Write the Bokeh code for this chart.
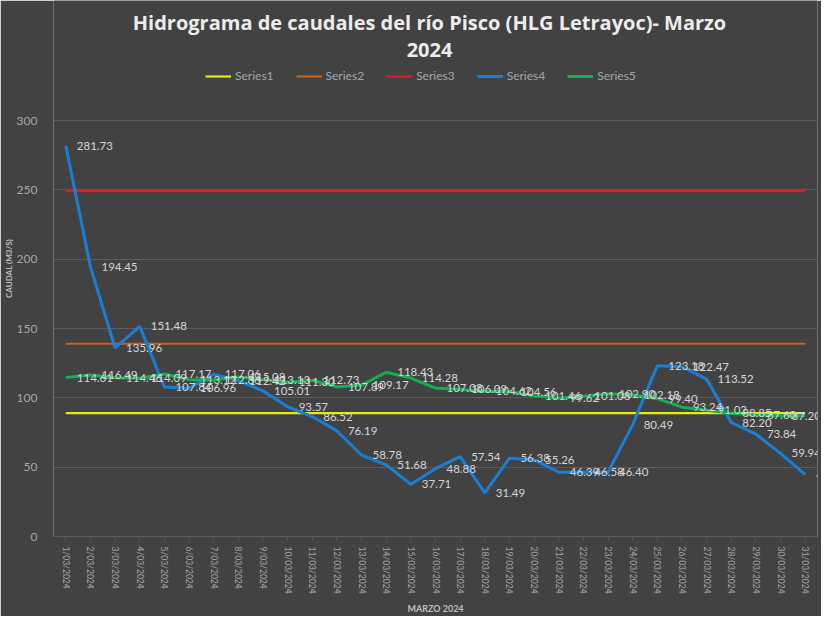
from bokeh.plotting import figure
from bokeh.models import ColumnDataSource, Legend, LegendItem, FixedTicker, Range1d
from bokeh.core.properties import value
from bokeh.embed import file_html
from bokeh.resources import INLINE

dates = ["1/03/2024", "2/03/2024", "3/03/2024", "4/03/2024", "5/03/2024", "6/03/2024",
         "7/03/2024", "8/03/2024", "9/03/2024", "10/03/2024", "11/03/2024", "12/03/2024",
         "13/03/2024", "14/03/2024", "15/03/2024", "16/03/2024", "17/03/2024", "18/03/2024",
         "19/03/2024", "20/03/2024", "21/03/2024", "22/03/2024", "23/03/2024", "24/03/2024",
         "25/03/2024", "26/03/2024", "27/03/2024", "28/03/2024", "29/03/2024", "30/03/2024",
         "31/03/2024"]

series1 = 89.0
series2 = 139.0
series3 = 249.0

series4 = [281.73, 194.45, 135.96, 151.48, 107.84, 106.96, 117.06, 112.42, 105.01, 93.57,
           86.52, 76.19, 58.78, 51.68, 37.71, 48.88, 57.54, 31.49, 56.38, 55.26,
           46.39, 46.58, 46.40, 80.49, 123.18, 122.47, 113.52, 82.20, 73.84, 59.94, 44.61]

series5 = [114.61, 116.49, 114.46, 114.09, 117.17, 113.12, 112.86, 115.08, 113.13, 111.30,
           112.73, 107.89, 109.17, 118.43, 114.28, 107.08, 106.09, 104.62, 104.56, 101.46,
           99.62, 101.08, 102.90, 102.18, 99.40, 93.24, 91.02, 88.85, 87.60, 87.20, 87.01]

y_ticks = [0, 50, 100, 150, 200, 250, 300]

title_lines = ["Hidrograma de caudales del río Pisco (HLG Letrayoc)- Marzo", "2024"]
names = ["Series1", "Series2", "Series3", "Series4", "Series5"]
colors = ["#e8e81a", "#c8641e", "#d42222", "#1a7fd4", "#12b050"]

BG = "#424242"
W, H = 821, 616
BOTTOM = 80            # height of the x-axis panel
FRAME_H = H - BOTTOM   # frame runs up to the top edge (title/legend live inside it)
TOP_PX = 120           # pixel position of the 300 gridline from the top
Y_TOP = 300 * FRAME_H / (FRAME_H - TOP_PX)


def y_at(px):
    """data y for a pixel distance px from the top of the frame"""
    return Y_TOP * (1 - px / FRAME_H)


p = figure(width=W, height=H, x_range=dates, y_range=Range1d(0, Y_TOP),
           output_backend="svg", toolbar_location=None,
           min_border_left=48, min_border_right=4, min_border_bottom=BOTTOM, min_border_top=0)
p.background_fill_color = BG
p.border_fill_color = BG
p.outline_line_color = None

th_src = ColumnDataSource(dict(x=dates, s1=[series1] * len(dates), s2=[series2] * len(dates),
                               s3=[series3] * len(dates)))
r1 = p.line("x", "s1", source=th_src, line_color=colors[0], line_width=2.2)
r2 = p.line("x", "s2", source=th_src, line_color=colors[1], line_width=2.2)
r3 = p.line("x", "s3", source=th_src, line_color=colors[2], line_width=2.2)

src = ColumnDataSource(dict(x=dates, s4=series4, s5=series5,
                            l4=[f"{v:.2f}" for v in series4],
                            l5=[f"{v:.2f}" for v in series5]))
r4 = p.line("x", "s4", source=src, line_color=colors[3], line_width=3)
r5 = p.line("x", "s5", source=src, line_color=colors[4], line_width=3)

lab_font = value("Lato")
p.text("x", "s4", text="l4", source=src, x_offset=11, text_align="left",
       text_baseline="middle", text_font=lab_font, text_font_size="11.5px",
       text_color="#d6d6d6")
p.text("x", "s5", text="l5", source=src, x_offset=11, text_align="left",
       text_baseline="middle", text_font=lab_font, text_font_size="11.5px",
       text_color="#d6d6d6")

# title (two centred lines) inside the top of the frame
mid = dates[len(dates) // 2]
p.text(x=[mid, mid], y=[y_at(22), y_at(49)], text=title_lines, x_offset=-6,
       text_align="center", text_baseline="middle", text_font=value("Open Sans"),
       text_font_size="20px", text_font_style="bold", text_color="#ececec")

legend = Legend(items=[LegendItem(label=n, renderers=[r]) for n, r in zip(names, [r1, r2, r3, r4, r5])],
                orientation="horizontal", location=(152, FRAME_H - 75 - 8),
                background_fill_alpha=0, border_line_color=None,
                label_text_color="#a6a6a6", label_text_font="Lato", label_text_font_size="12px",
                glyph_width=26, glyph_height=12, spacing=22, label_standoff=4,
                margin=0, padding=0)
p.add_layout(legend, "center")

p.yaxis.ticker = FixedTicker(ticks=y_ticks)
p.yaxis.axis_line_color = None
p.yaxis.major_tick_line_color = None
p.yaxis.minor_tick_line_color = None
p.yaxis.major_label_text_color = "#a6a6a6"
p.yaxis.major_label_text_font = "Lato"
p.yaxis.major_label_text_font_size = "12px"
p.yaxis.major_label_standoff = 10
p.yaxis.axis_label = "CAUDAL (M3/S)"
p.yaxis.axis_label_text_font = "Lato"
p.yaxis.axis_label_text_font_size = "8px"
p.yaxis.axis_label_text_font_style = "bold"
p.yaxis.axis_label_text_color = "#bfbfbf"
p.yaxis.axis_label_standoff = 0

p.xaxis.axis_line_color = "#5a5a5a"
p.xaxis.major_tick_line_color = "#5a5a5a"
p.xaxis.major_tick_out = 4
p.xaxis.major_tick_in = 0
p.xaxis.major_label_orientation = "vertical"
p.xaxis.major_label_text_color = "#a6a6a6"
p.xaxis.major_label_text_font = "Lato"
p.xaxis.major_label_text_font_size = "8.5px"
p.xaxis.major_label_standoff = 6
p.xaxis.axis_label = "MARZO 2024"
p.xaxis.axis_label_text_font = "Lato"
p.xaxis.axis_label_text_font_size = "9px"
p.xaxis.axis_label_text_font_style = "bold"
p.xaxis.axis_label_text_color = "#bfbfbf"
p.xaxis.axis_label_standoff = 6

p.xgrid.grid_line_color = None
p.ygrid.grid_line_color = "#5c5c5c"
p.ygrid.grid_line_width = 1

open("out.html", "w").write(file_html(p, INLINE))
